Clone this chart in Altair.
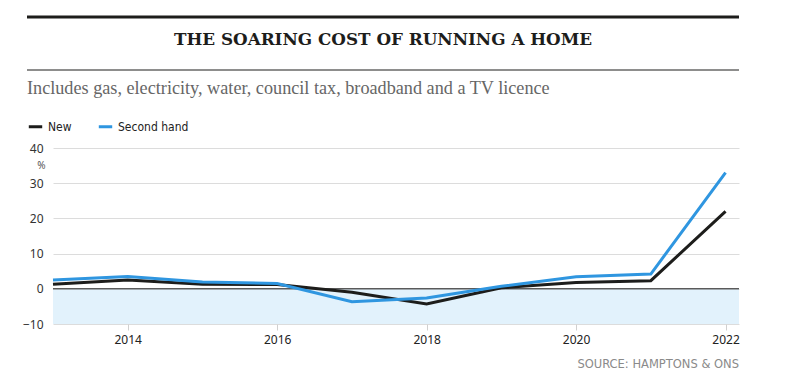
import altair as alt
import pandas as pd

years = [2013, 2014, 2015, 2016, 2017, 2018, 2019, 2020, 2021, 2022]
new_vals = [1.3, 2.5, 1.3, 1.2, -1.0, -4.3, 0.3, 1.8, 2.3, 22.0]
second_vals = [2.5, 3.5, 1.9, 1.5, -3.7, -2.6, 0.7, 3.4, 4.2, 33.0]
series_names = ["New", "Second hand"]
series_colors = ["#1d1d1b", "#2f96e0"]
x_ticks = [2014, 2016, 2018, 2020, 2022]
y_ticks = [-10, 0, 10, 20, 30, 40]

title_text = "THE SOARING COST OF RUNNING A HOME"
subtitle_text = "Includes gas, electricity, water, council tax, broadband and a TV licence"
source_text = "SOURCE: HAMPTONS & ONS"

W, H = 686, 176

df = pd.DataFrame(
    {"year": years * 2,
     "value": new_vals + second_vals,
     "series": [series_names[0]] * len(years) + [series_names[1]] * len(years)}
)

xscale = alt.Scale(domain=[2013, 2022.18], nice=False, zero=False)
yscale = alt.Scale(domain=[-10, 40], nice=False)

x_axis = alt.Axis(values=x_ticks, format="d", grid=False, domain=False,
                  ticks=True, tickSize=6, tickColor="#d0d0d0",
                  labelFont="Noto Sans", labelFontSize=12, labelColor="#222",
                  labelPadding=4, labelOverlap=False)
y_axis = alt.Axis(values=y_ticks, grid=True, gridColor="#dcdcdc", domain=False,
                  ticks=False, labelFont="Noto Sans", labelFontSize=12,
                  labelColor="#333", labelPadding=10, labelOverlap=False,
                  labelBound=False, labelFlush=False,
                  title="%", titleAngle=0, titleX=-12, titleY=17,
                  titleBaseline="middle", titleAlign="center",
                  titleFont="Noto Sans", titleFontSize=10,
                  titleFontWeight="normal", titleColor="#555")

base = alt.Chart(df)

shade = alt.Chart(pd.DataFrame({"lo": [-10], "hi": [0]})).mark_rect(color="#e2f2fc").encode(
    x=alt.value(0), x2=alt.value(W),
    y=alt.Y("lo:Q", scale=yscale, axis=y_axis), y2="hi:Q",
)

zero = alt.Chart(pd.DataFrame({"z": [0]})).mark_rule(color="#5a5a5a", strokeWidth=1.5).encode(
    y=alt.Y("z:Q", scale=yscale, axis=y_axis), x=alt.value(0), x2=alt.value(W)
)

lines = base.mark_line(strokeWidth=3).encode(
    x=alt.X("year:Q", scale=xscale, title=None, axis=x_axis),
    y=alt.Y("value:Q", scale=yscale, axis=y_axis),
    color=alt.Color("series:N",
                    scale=alt.Scale(domain=series_names, range=series_colors),
                    legend=alt.Legend(orient="none", legendX=-26, legendY=-30,
                                      direction="horizontal", title=None,
                                      symbolType="stroke", symbolStrokeWidth=3,
                                      symbolSize=180, labelFont="Liberation Sans Narrow, DejaVu Sans Condensed, sans-serif",
                                      labelFontSize=12, labelColor="#222",
                                      columnPadding=20, labelOffset=4)),
)

top_rule = alt.Chart(pd.DataFrame({"a": [0]})).mark_rule(color="#1d1d1b", strokeWidth=3).encode(
    x=alt.value(-26), x2=alt.value(W), y=alt.value(-131)
)
thin_rule = alt.Chart(pd.DataFrame({"a": [0]})).mark_rule(color="#1d1d1b", strokeWidth=1).encode(
    x=alt.value(-26), x2=alt.value(W), y=alt.value(-78)
)

title = alt.Chart(pd.DataFrame({"t": [title_text]})).mark_text(
    font="DejaVu Serif", fontWeight="bold", fontSize=16.8, color="#1d1d1b",
    align="center", baseline="middle"
).encode(text="t:N", x=alt.value(330), y=alt.value(-108))

subtitle = alt.Chart(pd.DataFrame({"t": [subtitle_text]})).mark_text(
    font="Liberation Serif", fontSize=18.2, color="#666666",
    align="left", baseline="middle"
).encode(text="t:N", x=alt.value(-26), y=alt.value(-59))

source = alt.Chart(pd.DataFrame({"t": [source_text]})).mark_text(
    font="DejaVu Sans", fontSize=11.5, color="#8a8a8a",
    align="right", baseline="middle"
).encode(text="t:N", x=alt.value(W), y=alt.value(217))

chart = alt.layer(shade, zero, lines, top_rule, thin_rule, title, subtitle, source).properties(
    width=W, height=H,
    background="white",
    autosize=alt.AutoSizeParams(type="none"),
    padding={"left": 45, "top": 140, "right": 42, "bottom": 53},
).configure_view(stroke=None).configure_axis(labelOverlap=False)

chart.save("out.html", embed_options={"renderer": "svg", "actions": False})
